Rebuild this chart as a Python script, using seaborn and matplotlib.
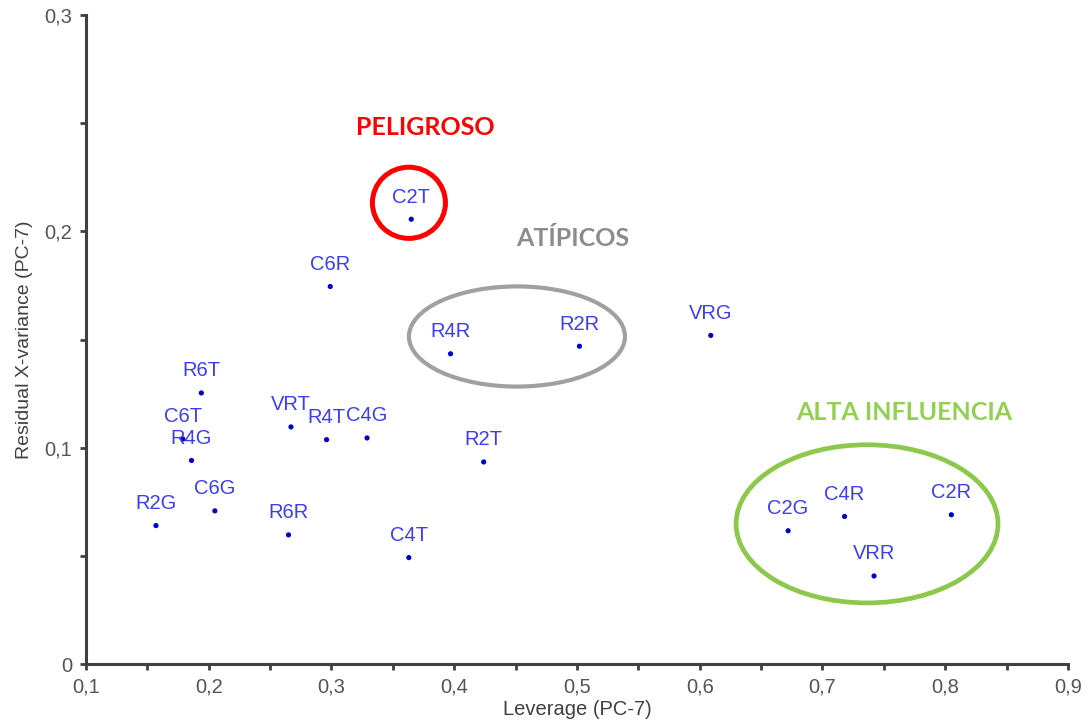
import matplotlib
matplotlib.use("Agg")
import matplotlib.pyplot as plt
from matplotlib.patches import Ellipse
from matplotlib.ticker import MultipleLocator, FuncFormatter
import seaborn as sns
import pandas as pd

# ---- data ----
samples = ["C2T", "C6R", "R4R", "R2R", "VRG", "R6T", "C6T", "R4G", "VRT", "R4T",
           "C4G", "R2T", "R2G", "C6G", "R6R", "C4T", "C2G", "C4R", "C2R", "VRR"]
leverage = [0.365, 0.299, 0.397, 0.502, 0.609, 0.194, 0.179, 0.186, 0.267, 0.296,
            0.329, 0.424, 0.157, 0.205, 0.265, 0.363, 0.672, 0.718, 0.805, 0.742]
residual = [0.2056, 0.1745, 0.1434, 0.1469, 0.1519, 0.1253, 0.1040, 0.0941, 0.1096, 0.1037,
            0.1045, 0.0934, 0.0640, 0.0708, 0.0597, 0.0492, 0.0616, 0.0682, 0.0690, 0.0407]

group_names = ["PELIGROSO", "ATÍPICOS", "ALTA INFLUENCIA"]
group_colors = ["#ff0000", "#8c8c8c", "#92d050"]
group_text_x = [0.3762, 0.4967, 0.7664]
group_text_y = [0.2481, 0.1968, 0.1162]
ell_cx = [0.3631, 0.4511, 0.7363]
ell_cy = [0.2132, 0.1514, 0.0648]
ell_w = [0.0595, 0.1760, 0.2134]
ell_h = [0.0329, 0.0463, 0.0731]
ell_color = ["#ff0000", "#a0a0a0", "#8cc84b"]
ell_lw = [3.6, 3.0, 3.4]

x_ticks = [0.1, 0.2, 0.3, 0.4, 0.5, 0.6, 0.7, 0.8, 0.9]
y_ticks = [0.0, 0.1, 0.2, 0.3]

df = pd.DataFrame({"sample": samples, "Leverage": leverage, "Residual": residual})

sns.set_style("ticks")
plt.rcParams["font.family"] = ["Liberation Sans", "DejaVu Sans"]

fig = plt.figure(figsize=(10.91, 7.25), dpi=100)
ax = fig.add_axes([0.0788, 0.0841, 0.9001, 0.8952])

sns.scatterplot(data=df, x="Leverage", y="Residual", ax=ax, color="#0000cc",
                s=14, edgecolor="none", zorder=3)

for name, xv, yv in zip(df["sample"], df["Leverage"], df["Residual"]):
    ax.annotate(name, (xv, yv), xytext=(0, 12), textcoords="offset points",
                ha="center", va="baseline", fontsize=14.5, color="#3c3cf5", zorder=4)

for cx, cy, w, h, c, lw in zip(ell_cx, ell_cy, ell_w, ell_h, ell_color, ell_lw):
    ax.add_patch(Ellipse((cx, cy), w, h, fill=False, edgecolor=c, linewidth=lw, zorder=2))

for t, c, tx, ty in zip(group_names, group_colors, group_text_x, group_text_y):
    ax.text(tx, ty, t, color=c, fontsize=18, fontweight="bold", family=["Lato", "DejaVu Sans"],
            ha="center", va="center", zorder=5)

ax.set_xlim(x_ticks[0], x_ticks[-1])
ax.set_ylim(y_ticks[0], y_ticks[-1])
ax.set_xticks(x_ticks)
ax.set_yticks(y_ticks)
ax.xaxis.set_minor_locator(MultipleLocator(0.05))
ax.yaxis.set_minor_locator(MultipleLocator(0.05))
fmt = FuncFormatter(lambda v, p: ("0" if abs(v) < 1e-9 else f"{v:.1f}".replace(".", ",")))
ax.xaxis.set_major_formatter(fmt)
ax.yaxis.set_major_formatter(fmt)

ax.tick_params(axis="both", which="major", length=4, width=2, color="#404040",
               labelsize=14.5, labelcolor="#555555", pad=6)
ax.tick_params(axis="both", which="minor", length=4, width=2, color="#404040")

sns.despine(ax=ax)
for sp in ["left", "bottom"]:
    ax.spines[sp].set_linewidth(2.2)
    ax.spines[sp].set_color("#404040")

ax.set_xlabel("Leverage (PC-7)", fontsize=14.5, color="#404040", labelpad=2)
ax.set_ylabel("Residual X-variance (PC-7)", fontsize=14, color="#404040", labelpad=8)

fig.savefig("out.png", dpi=100)
